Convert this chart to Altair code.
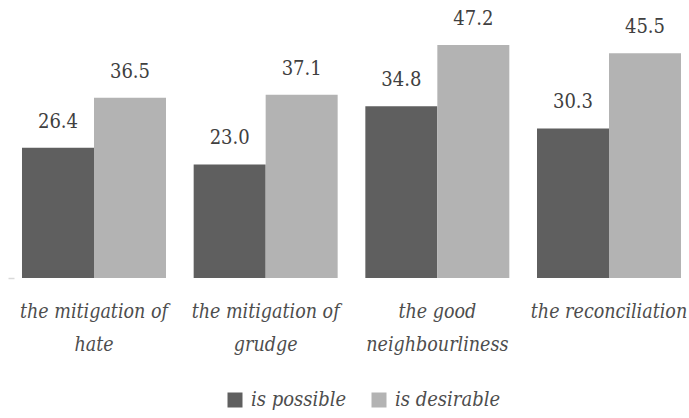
import altair as alt
import pandas as pd

# Survey results: share of respondents (%) per outcome
categories = [
    "the mitigation of\nhate",
    "the mitigation of\ngrudge",
    "the good\nneighbourliness",
    "the reconciliation",
]
series = ["is possible", "is desirable"]
possible = [26.4, 23.0, 34.8, 30.3]
desirable = [36.5, 37.1, 47.2, 45.5]
colors = ["#5f5f5f", "#b3b3b3"]

rows = []
for cat, p, d in zip(categories, possible, desirable):
    rows.append({"category": cat, "series": series[0], "value": p})
    rows.append({"category": cat, "series": series[1], "value": d})
df = pd.DataFrame(rows)

font = "DejaVu Serif Condensed"

x = alt.X(
    "category:N",
    sort=categories,
    scale=alt.Scale(paddingInner=0.1612, paddingOuter=0.0466),
    axis=alt.Axis(
        title=None,
        labelAngle=0,
        domain=False,
        ticks=False,
        tickSize=0,
        labelPadding=24,
        labelFont=font,
        labelFontSize=19.5,
        labelFontStyle="italic",
        labelColor="#4d4d4d",
        labelLineHeight=33,
        labelBaseline="top",
        labelLimit=200,
        labelExpr="split(datum.label, '\\n')",
    ),
)
x_offset = alt.XOffset("series:N", sort=series, scale=alt.Scale(paddingInner=0, paddingOuter=0))
y = alt.Y(
    "value:Q",
    scale=alt.Scale(domain=[0, 56.3], nice=False, zero=True),
    axis=alt.Axis(
        title=None,
        labels=False,
        domain=False,
        grid=False,
        values=[0],
        tickSize=6,
        tickColor="#d9d9d9",
        tickWidth=1.5,
    ),
)

bars = alt.Chart(df).mark_bar().encode(
    x=x,
    xOffset=x_offset,
    y=y,
    color=alt.Color(
        "series:N",
        sort=series,
        scale=alt.Scale(domain=series, range=colors),
        legend=alt.Legend(
            title=None,
            orient="none",
            direction="horizontal",
            legendX=211,
            legendY=390,
            padding=0,
            symbolType="square",
            symbolSize=225,
            symbolStrokeWidth=0,
            symbolOpacity=1,
            labelFont=font,
            labelFontSize=20,
            labelFontStyle="italic",
            labelColor="#4d4d4d",
            labelOffset=6,
            columnPadding=22,
        ),
    ),
)

labels = alt.Chart(df).mark_text(
    font=font,
    fontSize=20,
    color="#404040",
    baseline="alphabetic",
    dy=-20,
).encode(
    x=alt.X("category:N", sort=categories),
    xOffset=alt.XOffset("series:N", sort=series),
    y="value:Q",
    text=alt.Text("value:Q", format=".1f"),
)

chart = (
    alt.layer(bars, labels)
    .properties(
        width=675,
        height=278,
        autosize=alt.AutoSizeParams(type="none"),
        padding={"left": 14, "top": 0, "right": 0, "bottom": 140},
        background="white",
    )
    .configure(font=font)
    .configure_view(strokeWidth=0)
)

chart.save("out.html", embed_options={"renderer": "svg", "actions": False})
